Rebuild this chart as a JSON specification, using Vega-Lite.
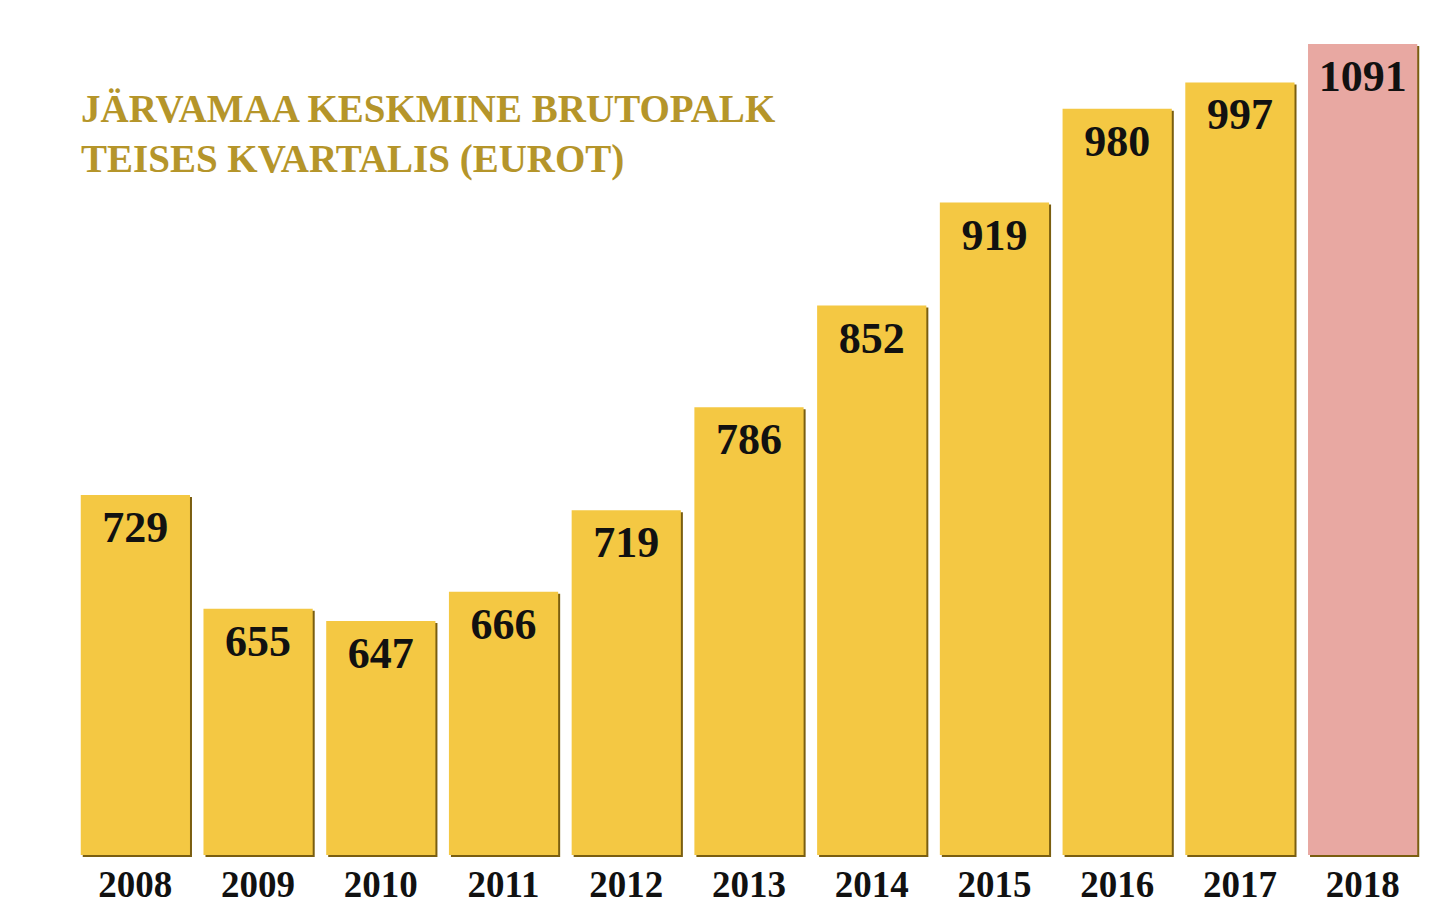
{
  "$schema": "https://vega.github.io/schema/vega-lite/v6.json",
  "width": 1350,
  "height": 811,
  "autosize": {"type": "none"},
  "padding": {"left": 74, "top": 44, "right": 18, "bottom": 55},
  "background": "white",
  "config": {
    "view": {"stroke": "transparent"}
  },
  "title": {
    "text": ["JÄRVAMAA KESKMINE BRUTOPALK", "TEISES KVARTALIS (EUROT)"],
    "anchor": "start",
    "frame": "group",
    "orient": "top",
    "offset": 0,
    "dx": 7,
    "dy": 167,
    "baseline": "alphabetic",
    "lineHeight": 50,
    "font": "Liberation Serif",
    "fontSize": 39,
    "fontWeight": "bold",
    "color": "#b5952a"
  },
  "data": {
    "values": [
      {"year": "2008", "palk": 729},
      {"year": "2009", "palk": 655},
      {"year": "2010", "palk": 647},
      {"year": "2011", "palk": 666},
      {"year": "2012", "palk": 719},
      {"year": "2013", "palk": 786},
      {"year": "2014", "palk": 852},
      {"year": "2015", "palk": 919},
      {"year": "2016", "palk": 980},
      {"year": "2017", "palk": 997},
      {"year": "2018", "palk": 1091}
    ]
  },
  "encoding": {
    "x": {
      "field": "year",
      "type": "ordinal",
      "title": null,
      "scale": {"paddingInner": 0.11, "paddingOuter": 0.055},
      "axis": {
        "domain": false,
        "ticks": false,
        "labelAngle": 0,
        "labelFont": "Liberation Serif",
        "labelFontSize": 37,
        "labelFontWeight": "bold",
        "labelColor": "#111111",
        "labelPadding": 12
      }
    },
    "y": {
      "field": "palk",
      "type": "quantitative",
      "scale": {"domain": [495, 1022], "clamp": true, "zero": false},
      "axis": null
    }
  },
  "layer": [
    {
      "mark": {"type": "bar", "color": "#7a5e10", "xOffset": 2, "yOffset": 2}
    },
    {
      "mark": {"type": "bar"},
      "encoding": {
        "color": {
          "condition": {"test": "datum.year == '2018'", "value": "#e8a8a2"},
          "value": "#f4c843"
        }
      }
    },
    {
      "mark": {
        "type": "text",
        "baseline": "middle",
        "dy": 34,
        "font": "Liberation Serif",
        "fontSize": 44,
        "fontWeight": "bold",
        "color": "#111111"
      },
      "encoding": {
        "text": {"field": "palk", "type": "quantitative"}
      }
    }
  ]
}
